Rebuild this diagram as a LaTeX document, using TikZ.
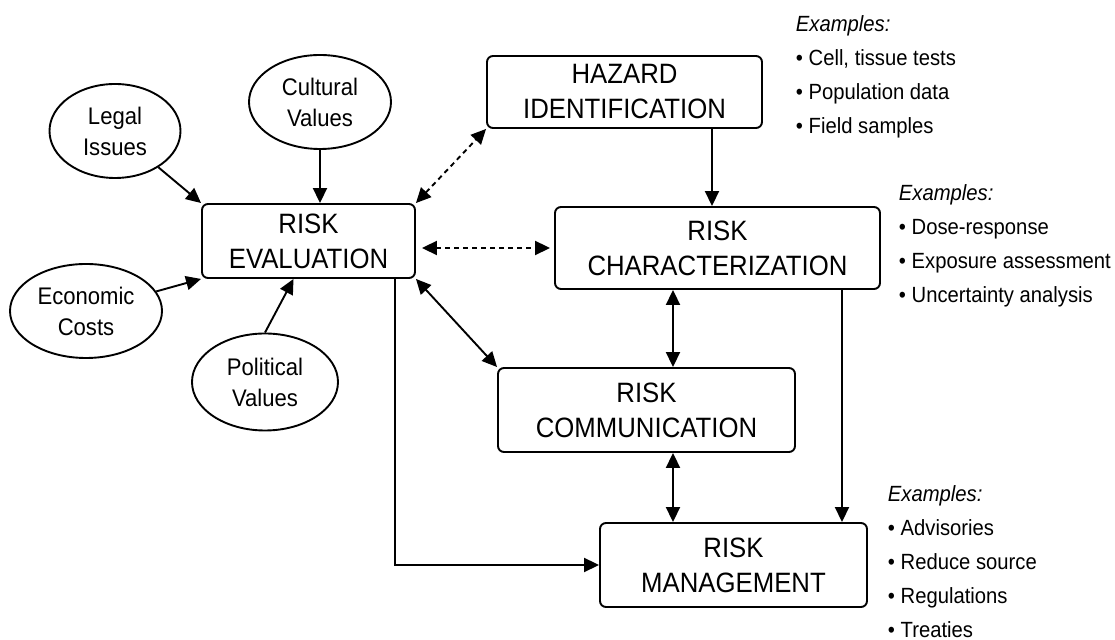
\documentclass[tikz,border=0pt]{standalone}
\usepackage{fontspec}
\setmainfont{Liberation Sans}[FakeStretch=0.92]
\usepackage{tikz}
\usetikzlibrary{arrows.meta}
\usetikzlibrary{positioning}
\usetikzlibrary{shapes}
\usetikzlibrary{calc}

\begin{document}
\begin{tikzpicture}[x=0.5pt,y=-0.5pt,line width=0.95pt,>={Triangle[length=7.5pt,width=7pt]}]
\tikzstyle{stage}=[draw,rounded corners=3pt,align=center,inner sep=0pt,font=\fontsize{14}{17.5}\selectfont]
\tikzstyle{factor}=[draw,ellipse,align=center,inner sep=0pt,minimum height=47pt,font=\fontsize{12}{15.5}\selectfont]
\tikzstyle{examples}=[anchor=north west,align=left,inner sep=0pt,font=\fontsize{11}{17}\selectfont]
\tikzstyle{link}=[dash pattern=on 2.5pt off 2pt]
\useasboundingbox (0,0) rectangle (1115,640);

% outside factors
\node [factor,minimum width=65.5pt] (legal) at (115,131) {Legal\\Issues};
\node [factor,minimum width=71pt] (cultural) at (320,102) {Cultural\\Values};
\node [factor,minimum width=76pt] (economic) at (86,311) {Economic\\Costs};
\node [factor,minimum width=73pt,minimum height=48.5pt] (political) at (265,382) {Political\\Values};

% stages
\node [stage,minimum width=137.5pt,minimum height=36pt] (hazard) at (624.5,92) {HAZARD\\IDENTIFICATION};
\node [stage,minimum width=106.5pt,minimum height=37pt] (re) at (308.5,241) {RISK\\EVALUATION};
\node [stage,minimum width=162.5pt,minimum height=41pt] (rc) at (717.5,248) {RISK\\CHARACTERIZATION};
\node [stage,minimum width=148.5pt,minimum height=42pt] (rcom) at (646.5,410) {RISK\\COMMUNICATION};
\node [stage,minimum width=133.5pt,minimum height=42pt] (rm) at (733.5,565) {RISK\\MANAGEMENT};

% examples
\node [examples] (ex1) at (795,15) {\textit{Examples:}\\\textbullet\ Cell, tissue tests\\\textbullet\ Population data\\\textbullet\ Field samples};
\node [examples] (ex2) at (898,184) {\textit{Examples:}\\\textbullet\ Dose-response\\\textbullet\ Exposure assessment\\\textbullet\ Uncertainty analysis};
\node [examples] (ex3) at (887,485) {\textit{Examples:}\\\textbullet\ Advisories\\\textbullet\ Reduce source\\\textbullet\ Regulations\\\textbullet\ Treaties};

\coordinate (hazx) at (712,0);
\coordinate (commx) at (673,0);
\coordinate (mgmtx) at (842,0);
\coordinate (evalx) at (395,0);

% arrows
\draw [->] (legal) -- (re.north west);
\draw [->] (cultural.south) -- (cultural.south |- re.north);
\draw [->] (economic) -- (re.south west);
\draw [->] (political.north) -- ($(re.south)+(-15,0)$);
\draw [<->,link] (re.north east) -- (hazard.south west);
\draw [<->,link,shorten <=3pt,shorten >=2pt] (re.east |- rc.west) -- (rc.west);
\draw [->] (hazard.south -| hazx) -- (rc.north -| hazx);
\draw [<->] (rc.south -| commx) -- (rcom.north -| commx);
\draw [<->] (rcom.south -| commx) -- (rm.north -| commx);
\draw [->] (rc.south -| mgmtx) -- (rm.north -| mgmtx);
\draw [<->] (re.south east) -- (rcom.north west);
\draw [->] (re.south -| evalx) |- (rm.west);
\end{tikzpicture}
\end{document}
